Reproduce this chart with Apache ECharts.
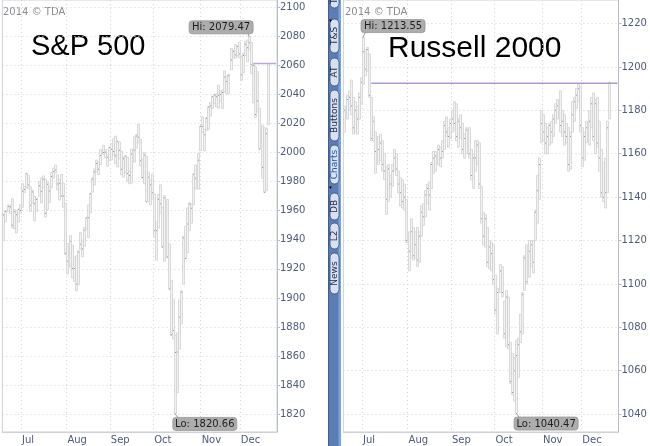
<!DOCTYPE html>
<html><head><meta charset="utf-8">
<script src="https://cdn.jsdelivr.net/npm/echarts@6/dist/echarts.min.js"></script>
<style>html,body{margin:0;padding:0;background:#fff}#c{width:650px;height:446px}</style>
</head><body><div id="c"></div>
<script>
// ---- categories (trading days, 2014) ----
const tradingDays = ['06-18','06-19','06-20','06-23','06-24','06-25','06-26','06-27','06-30',
'07-01','07-02','07-03','07-07','07-08','07-09','07-10','07-11','07-14','07-15','07-16','07-17','07-18','07-21','07-22','07-23','07-24','07-25','07-28','07-29','07-30','07-31',
'08-01','08-04','08-05','08-06','08-07','08-08','08-11','08-12','08-13','08-14','08-15','08-18','08-19','08-20','08-21','08-22','08-25','08-26','08-27','08-28','08-29',
'09-02','09-03','09-04','09-05','09-08','09-09','09-10','09-11','09-12','09-15','09-16','09-17','09-18','09-19','09-22','09-23','09-24','09-25','09-26','09-29','09-30',
'10-01','10-02','10-03','10-06','10-07','10-08','10-09','10-10','10-13','10-14','10-15','10-16','10-17','10-20','10-21','10-22','10-23','10-24','10-27','10-28','10-29','10-30','10-31',
'11-03','11-04','11-05','11-06','11-07','11-10','11-11','11-12','11-13','11-14','11-17','11-18','11-19','11-20','11-21','11-24','11-25','11-26','11-28',
'12-01','12-02','12-03','12-04','12-05','12-08','12-09','12-10','12-11','12-12','12-15','12-16','12-17','12-18'];
const padDays = ['12-19','12-22','12-23','12-24'];
const monthStarts = ['07-01','08-01','09-02','10-01','11-03','12-01'];
const monthNames = ['Jul','Aug','Sep','Oct','Nov','Dec'];

// ---- S&P 500 daily bars ----
const spxHigh = [1957.7,1959.9,1963.9,1963.7,1968.2,1960.8,1959.9,1961.0,1964.2,
1978.6,1976.7,1985.6,1984.2,1976.4,1974.2,1969.8,1968.7,1979.9,1982.5,1983.9,1981.8,1979.9,1976.9,1986.2,1989.2,1991.4,1984.6,1981.5,1984.9,1978.9,1965.1,
1937.4,1942.9,1936.3,1927.9,1928.9,1932.4,1944.9,1939.7,1948.4,1955.2,1964.0,1972.0,1982.6,1988.6,1994.8,1993.5,2002.0,2005.0,2002.1,1998.5,2003.4,
2006.1,2009.3,2011.2,2007.7,2007.2,2001.0,1996.7,1997.7,1996.7,1987.2,2002.3,2010.7,2012.3,2019.3,2009.1,1995.4,1999.8,1997.3,1986.4,1981.3,1985.2,
1971.4,1952.3,1971.2,1977.8,1962.4,1970.4,1967.7,1937.0,1912.1,1898.7,1874.2,1876.0,1898.2,1905.0,1942.5,1949.3,1961.9,1965.3,1964.6,1985.1,1991.4,1999.4,2018.2,
2024.5,2016.0,2023.8,2031.6,2034.3,2038.7,2039.7,2040.3,2046.2,2042.2,2043.1,2056.1,2052.1,2053.8,2071.5,2070.2,2074.2,2073.3,2075.8,
2065.8,2068.2,2076.3,2077.3,2079.47,2075.8,2060.6,2058.9,2055.5,2030.4,2018.7,2016.9,2016.8,2061.2];
const spxLow = [1939.3,1952.3,1959.2,1958.2,1948.3,1947.5,1944.7,1952.2,1958.2,
1962.3,1972.6,1975.9,1974.9,1959.5,1965.1,1952.9,1959.6,1969.9,1965.3,1975.7,1955.6,1960.8,1965.8,1975.7,1982.4,1985.8,1974.4,1967.3,1969.9,1962.4,1930.0,
1916.4,1921.2,1913.8,1911.5,1904.8,1909.0,1933.4,1928.3,1935.6,1947.4,1941.5,1958.4,1972.7,1977.7,1986.8,1984.8,1991.7,1998.6,1996.2,1990.5,1994.6,
1994.9,1998.1,1992.4,1990.1,1995.6,1984.6,1983.0,1985.9,1980.3,1978.5,1979.1,1993.3,2003.1,2006.6,1991.0,1982.4,1978.6,1966.0,1966.2,1964.0,1968.0,
1941.7,1926.0,1948.1,1958.4,1934.9,1925.3,1927.6,1906.1,1874.1,1871.8,1820.66,1835.0,1864.9,1882.3,1909.4,1927.1,1931.0,1946.3,1951.4,1964.1,1974.8,1974.7,2001.2,
2013.7,2001.0,2015.3,2015.9,2025.1,2030.2,2033.6,2031.3,2030.4,2035.2,2030.2,2041.5,2040.4,2040.5,2056.8,2065.1,2064.8,2066.3,2065.1,
2049.6,2054.8,2066.6,2062.3,2070.8,2054.3,2034.2,2024.3,2027.9,2002.3,1982.3,1972.6,1973.8,2019.0];
const spxClose = [1957.0,1959.5,1962.9,1962.6,1950.0,1959.5,1957.2,1961.0,1960.2,
1973.3,1974.6,1985.4,1977.7,1963.7,1972.8,1964.7,1967.6,1977.1,1973.3,1981.6,1958.1,1978.2,1973.6,1983.5,1987.0,1988.0,1978.3,1978.9,1969.9,1970.1,1930.7,
1925.2,1939.0,1920.2,1920.2,1909.6,1931.6,1936.9,1933.8,1946.7,1955.2,1955.1,1971.7,1981.6,1986.5,1992.4,1988.4,1997.9,2000.0,2000.1,1996.7,2003.4,
2002.3,2000.7,1997.7,2007.7,2001.5,1988.4,1995.7,1997.5,1985.5,1984.1,1999.0,2001.6,2011.4,2010.4,1994.3,1982.8,1998.3,1966.0,1982.9,1977.8,1972.3,
1946.2,1946.2,1967.9,1964.8,1935.1,1968.9,1928.2,1906.1,1874.7,1877.7,1862.5,1862.8,1886.8,1904.0,1941.3,1927.1,1950.8,1964.6,1961.6,1985.1,1982.3,1994.7,2018.1,
2017.8,2012.1,2023.6,2031.2,2031.9,2038.3,2039.7,2038.3,2039.3,2039.8,2041.3,2051.8,2048.7,2052.8,2063.5,2069.4,2067.0,2072.8,2067.6,
2053.4,2066.6,2074.3,2071.9,2075.4,2060.3,2059.8,2026.1,2035.3,2002.3,1989.6,1972.7,2012.9,2061.2];

// ---- Russell 2000 daily bars ----
const rutHigh = [1182,1187,1189,1194,1186,1184,1182,1188,1195,
1213.55,1208,1209,1206,1186,1177,1170,1168,1169,1166,1160,1154,1155,1150,1155,1162,1160,1152,1149,1148,1146,1139,
1124,1130,1126,1124,1126,1124,1136,1137,1143,1146,1147,1156,1161,1161,1164,1163,1166,1175,1177,1172,1176,
1180,1184,1183,1176,1178,1174,1169,1172,1172,1162,1160,1166,1166,1165,1145,1133,1132,1126,1120,1119,1118,
1104,1098,1109,1108,1092,1097,1094,1073,1068,1066,1074,1075,1086,1096,1113,1118,1120,1120,1120,1134,1150,1158,1180,
1178,1174,1172,1174,1175,1178,1183,1185,1189,1180,1178,1174,1172,1170,1184,1186,1190,1192,1191,
1172,1170,1175,1180,1186,1188,1185,1186,1175,1162,1156,1158,1175,1193];
const rutLow = [1170,1176,1180,1178,1169,1170,1169,1176,1183,
1192,1196,1198,1186,1166,1166,1151,1155,1157,1152,1148,1132,1138,1140,1145,1152,1150,1142,1136,1135,1134,1119,
1106,1112,1111,1112,1108,1110,1122,1127,1131,1137,1134,1144,1151,1152,1155,1154,1158,1162,1168,1163,1167,
1170,1171,1166,1163,1167,1160,1158,1160,1158,1148,1144,1152,1155,1144,1128,1118,1117,1108,1107,1106,1100,
1086,1077,1096,1094,1075,1071,1070,1054,1049,1046,1040.47,1057,1073,1077,1097,1100,1103,1108,1105,1120,1128,1139,1165,
1166,1160,1160,1164,1165,1168,1174,1176,1170,1168,1164,1165,1152,1153,1170,1175,1181,1184,1170,
1154,1157,1165,1164,1172,1166,1160,1163,1152,1140,1138,1135,1142,1176];
const rutClose = [1180,1185,1186,1182,1172,1180,1176,1186,1193,
1207,1199,1208,1187,1167,1175,1161,1162,1165,1155,1152,1139,1153,1146,1152,1158,1153,1146,1142,1138,1140,1120,
1115,1124,1113,1118,1111,1122,1133,1131,1141,1144,1141,1155,1158,1159,1162,1158,1161,1173,1170,1168,1174,
1176,1174,1168,1175,1172,1162,1167,1171,1160,1150,1158,1158,1164,1146,1130,1122,1130,1110,1117,1114,1102,
1088,1096,1106,1096,1077,1094,1072,1055,1050,1060,1067,1072,1078,1095,1112,1101,1115,1118,1110,1133,1143,1155,1174,
1170,1165,1168,1173,1170,1176,1180,1182,1173,1175,1170,1168,1155,1168,1178,1184,1187,1190,1173,
1158,1168,1172,1175,1183,1168,1183,1165,1158,1142,1140,1142,1172,1192.5];

// ---- axis tick labels ----
const spxTicks = [1820,1840,1860,1880,1900,1920,1940,1960,1980,2000,2020,2040,2060,2080,2100];
const rutTicks = [1040,1060,1080,1100,1120,1140,1160,1180,1200,1220];
// days where the last-price reference line starts
const spxLineFrom = '12-09';
const rutLineFrom = '07-08';

const categories = tradingDays.concat(padDays);
const AX = '#4e5a7e', GRIDC = '#d4d4d4', FONT = '"DejaVu Sans", sans-serif';

function renderBar(params, api) {
  const i = api.value(0);
  const top = api.coord([i, api.value(1)]);
  const bot = api.coord([i, api.value(2)]);
  const cl = api.coord([i, api.value(3)]);
  const x = Math.round(top[0]) + 0.5;
  return {type: 'group', children: [
    {type: 'rect', shape: {x: x - 1, y: top[1], width: 2, height: Math.max(1, bot[1] - top[1])},
     style: {fill: '#f3f3f3', stroke: '#cdcdcd', lineWidth: 0.7}},
    {type: 'rect', shape: {x: x - 0.5, y: cl[1] - 0.5, width: 1, height: 1}, style: {fill: '#9a9a9a'}}
  ]};
}

function noteRenderer(metas) {
  return function (params, api) {
    const m = metas[params.dataIndex];
    const p = api.coord([api.value(0), api.value(1)]);
    const w = 64, h = 13;
    let bx, by, ex, ey;
    if (m.pos === 'aboveLeft') { bx = p[0] + 4 - w; by = p[1] - 3 - h; ex = p[0] - 1; ey = by + h; }
    else if (m.pos === 'aboveRight') { bx = p[0] - 2; by = p[1] - 5 - h; ex = p[0] + 2; ey = by + h; }
    else { bx = p[0] - 2; by = p[1] + 4; ex = p[0] + 3; ey = by; }
    return {type: 'group', children: [
      {type: 'line', shape: {x1: p[0], y1: p[1], x2: ex, y2: ey}, style: {stroke: '#9a9a9a', lineWidth: 1}},
      {type: 'rect', shape: {x: bx, y: by, width: w, height: h, r: 3}, style: {fill: '#adadad', stroke: '#969696', lineWidth: 0.8}},
      {type: 'text', style: {x: bx + w / 2, y: by + h / 2 + 0.5, text: m.text, fill: '#1e1e1e', font: '10px ' + FONT, align: 'center', verticalAlign: 'middle'}}
    ]};
  };
}

function extremes(high, low) {
  let hi = 0, lo = 0;
  high.forEach((v, i) => { if (v > high[hi]) hi = i; });
  low.forEach((v, i) => { if (v < low[lo]) lo = i; });
  return {hi, lo};
}

function panelSeries(g, high, low, close, lineFrom, hiPos, color) {
  const ex = extremes(high, low);
  const metas = [
    {text: 'Hi: ' + high[ex.hi].toFixed(2), pos: hiPos},
    {text: 'Lo: ' + low[ex.lo].toFixed(2), pos: 'belowRight'}
  ];
  const last = close[close.length - 1];
  return [
    {type: 'custom', xAxisIndex: g, yAxisIndex: g, renderItem: renderBar, silent: true,
     encode: {x: 0, y: [1, 2]},
     data: tradingDays.map((d, i) => [i, high[i], low[i], close[i]])},
    {type: 'line', xAxisIndex: g, yAxisIndex: g, symbol: 'none', silent: true,
     lineStyle: {color: color, width: 1.5},
     data: [[tradingDays.indexOf(lineFrom), last], [categories.length - 1, last]]},
    {type: 'custom', xAxisIndex: g, yAxisIndex: g, renderItem: noteRenderer(metas), silent: true, z: 5,
     data: [[ex.hi, high[ex.hi]], [ex.lo, low[ex.lo]]]}
  ];
}

function xAxisFor(g) {
  const isMonth = (idx, val) => monthStarts.indexOf(val) >= 0;
  return {
    type: 'category', gridIndex: g, data: categories, boundaryGap: true,
    axisLine: {show: true, lineStyle: {color: '#cfd1da'}},
    axisTick: {show: false},
    axisLabel: {interval: isMonth, align: 'left', margin: 3, color: AX, fontSize: 10, fontFamily: FONT,
      formatter: v => monthNames[monthStarts.indexOf(v)] || ''},
    splitLine: {show: true, interval: isMonth, lineStyle: {color: GRIDC, type: [1, 3]}}
  };
}

function yAxisFor(g, min, max, ticks) {
  return {
    type: 'value', gridIndex: g, position: 'right', min: min, max: max, scale: true,
    axisLine: {show: true, lineStyle: {color: '#b7bbcf'}},
    axisTick: {show: true, inside: false, length: 3, customValues: ticks, lineStyle: {color: '#b7bbcf'}},
    axisLabel: {customValues: ticks, margin: 3, color: AX, fontSize: 10, fontFamily: FONT,
      formatter: v => String(v)},
    splitLine: {show: true, lineStyle: {color: GRIDC, type: [1, 3]}}
  };
}

// ---- button strip decoration ----
const pills = [
  {t: 'Tr', y0: -8, y1: 8}, {t: 'T&S', y0: 19, y1: 53}, {t: 'AT', y0: 58, y1: 86},
  {t: 'Buttons', y0: 90, y1: 141}, {t: 'Charts', y0: 145, y1: 184, c: '#2256c8'},
  {t: 'DB', y0: 193, y1: 220}, {t: 'L2', y0: 223, y1: 249}, {t: 'News', y0: 253, y1: 294}
];
const stripEls = [
  {type: 'rect', shape: {x: 328, y: 0, width: 13, height: 446}, style: {fill: '#5b7db3'}},
  {type: 'rect', shape: {x: 338.5, y: 0, width: 2.5, height: 446}, style: {fill: '#7aa3e2'}},
  {type: 'rect', shape: {x: 328, y: 0, width: 1, height: 446}, style: {fill: '#3d5e92'}}
];
pills.forEach(p => {
  stripEls.push({type: 'rect', shape: {x: 330, y: p.y0, width: 9, height: p.y1 - p.y0, r: 4.5},
    style: {fill: '#d9e0ee', stroke: '#2c4a7a', lineWidth: 0.8}});
  stripEls.push({type: 'text', x: 334.8, y: (p.y0 + p.y1) / 2, rotation: Math.PI / 2,
    style: {text: p.t, fill: p.c || '#1a2a4c', font: '9px ' + FONT, align: 'center', verticalAlign: 'middle'}});
});
stripEls.push({type: 'polygon', shape: {points: [[329, 19.5], [332, 19.5], [330.5, 22]]}, style: {fill: '#000'}});
stripEls.push({type: 'polygon', shape: {points: [[329, 186.5], [332, 186.5], [330.5, 189]]}, style: {fill: '#000'}});

const chart = echarts.init(document.getElementById('c'), null, {renderer: 'canvas'});
chart.setOption({
  animation: false,
  backgroundColor: '#fff',
  grid: [
    {left: 2.4, right: 373, top: -2, bottom: 14, show: true, borderColor: '#cfd1da', borderWidth: 1},
    {left: 343.4, right: 31.5, top: -2, bottom: 14, show: true, borderColor: '#cfd1da', borderWidth: 1}
  ],
  xAxis: [xAxisFor(0), xAxisFor(1)],
  yAxis: [yAxisFor(0, 1807.89, 2104.79, spxTicks), yAxisFor(1, 1031.74, 1230.87, rutTicks)],
  series: [].concat(
    panelSeries(0, spxHigh, spxLow, spxClose, spxLineFrom, 'aboveLeft', '#bba6e0'),
    panelSeries(1, rutHigh, rutLow, rutClose, rutLineFrom, 'aboveRight', '#ab97d8')
  ),
  graphic: [
    {type: 'group', children: stripEls},
    {type: 'text', x: 3, y: 12, style: {text: '2014 © TDA', fill: '#8c8c8c', font: '10px ' + FONT, verticalAlign: 'middle'}},
    {type: 'text', x: 345, y: 12, style: {text: '2014 © TDA', fill: '#8c8c8c', font: '10px ' + FONT, verticalAlign: 'middle'}},
    {type: 'text', x: 31, y: 46.5, style: {text: 'S&P 500', fill: '#000', font: '29px "Liberation Sans", Arial, sans-serif', verticalAlign: 'middle'}},
    {type: 'text', x: 388, y: 48.5, style: {text: 'Russell 2000', fill: '#000', font: '30px "Liberation Sans", Arial, sans-serif', verticalAlign: 'middle'}}
  ]
});
</script></body></html>
